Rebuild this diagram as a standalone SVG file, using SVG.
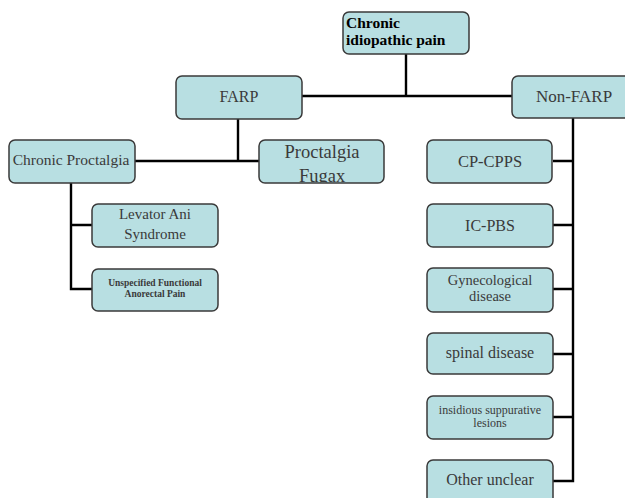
<svg xmlns="http://www.w3.org/2000/svg" width="625" height="498" viewBox="0 0 625 498">
<style>
.box{fill:#b8dfe2;stroke:#3a3a3a;stroke-width:1.5}
.t{font-family:"Liberation Serif","Times New Roman",serif;fill:#3a3a3a;text-anchor:middle}
.b{font-family:"Liberation Serif","Times New Roman",serif;fill:#000;font-weight:bold}
.c{fill:none;stroke:#000;stroke-width:2.4}
</style>
<defs>
<clipPath id="clipPF"><rect x="259" y="140" width="125" height="42.5"/></clipPath>
</defs>
<rect width="625" height="498" fill="#fff"/>
<g id="connectors">
<path class="c" d="M406 54V96M302 96H512"/>
<path class="c" d="M238 119V161M135 161H259"/>
<path class="c" d="M71 183V289H92M71 225H92"/>
<path class="c" d="M573 118V481H553M553 161H573M553 225H573M553 289H573M553 354H573M553 417H573"/>
</g>
<g id="n-root">
<rect class="box" x="343" y="12" width="126" height="42" rx="6"/>
<text class="b" x="346" y="28" font-size="15.5">Chronic</text>
<text class="b" x="346" y="45" font-size="15.5">idiopathic pain</text>
</g>
<g id="n-farp">
<rect class="box" x="176" y="76" width="126" height="43" rx="6"/>
<text class="t" x="239" y="102" font-size="16">FARP</text>
</g>
<g id="n-nonfarp">
<rect class="box" x="512" y="76" width="124" height="42" rx="6"/>
<text class="t" x="574" y="102" font-size="17">Non-FARP</text>
</g>
<g id="n-chronic-proctalgia">
<rect class="box" x="9" y="140" width="126" height="43" rx="6"/>
<text class="t" x="71" y="165" font-size="15.5">Chronic Proctalgia</text>
</g>
<g id="n-proctalgia-fugax">
<rect class="box" x="259" y="140" width="125" height="43" rx="6"/>
<g clip-path="url(#clipPF)">
<text class="t" x="322" y="158" font-size="18.5">Proctalgia</text>
<text class="t" x="322" y="181.5" font-size="18.5">Fugax</text>
</g>
</g>
<g id="n-levator">
<rect class="box" x="92" y="204" width="126" height="43" rx="6"/>
<text class="t" x="155" y="219" font-size="15">Levator Ani</text>
<text class="t" x="155" y="239" font-size="15">Syndrome</text>
</g>
<g id="n-unspecified">
<rect class="box" x="92" y="269" width="126" height="42" rx="6"/>
<text class="t" x="155" y="285.5" font-size="9.5" font-weight="bold">Unspecified Functional</text>
<text class="t" x="155" y="296.5" font-size="9.5" font-weight="bold">Anorectal Pain</text>
</g>
<g id="n-cpcpps">
<rect class="box" x="427" y="140" width="125" height="43" rx="6"/>
<text class="t" x="490" y="167" font-size="16.5">CP-CPPS</text>
</g>
<g id="n-icpbs">
<rect class="box" x="427" y="204" width="126" height="43" rx="6"/>
<text class="t" x="490" y="231" font-size="16">IC-PBS</text>
</g>
<g id="n-gyn">
<rect class="box" x="427" y="268" width="126" height="44" rx="6"/>
<text class="t" x="490" y="285" font-size="14.5">Gynecological</text>
<text class="t" x="490" y="301" font-size="14.5">disease</text>
</g>
<g id="n-spinal">
<rect class="box" x="427" y="333" width="126" height="41" rx="6"/>
<text class="t" x="490" y="358" font-size="16">spinal disease</text>
</g>
<g id="n-insidious">
<rect class="box" x="427" y="396" width="126" height="43" rx="6"/>
<text class="t" x="490" y="413.5" font-size="12">insidious suppurative</text>
<text class="t" x="490" y="427" font-size="12">lesions</text>
</g>
<g id="n-other">
<rect class="box" x="427" y="460" width="126" height="48" rx="6"/>
<text class="t" x="490" y="485" font-size="16">Other unclear</text>
</g>
</svg>
